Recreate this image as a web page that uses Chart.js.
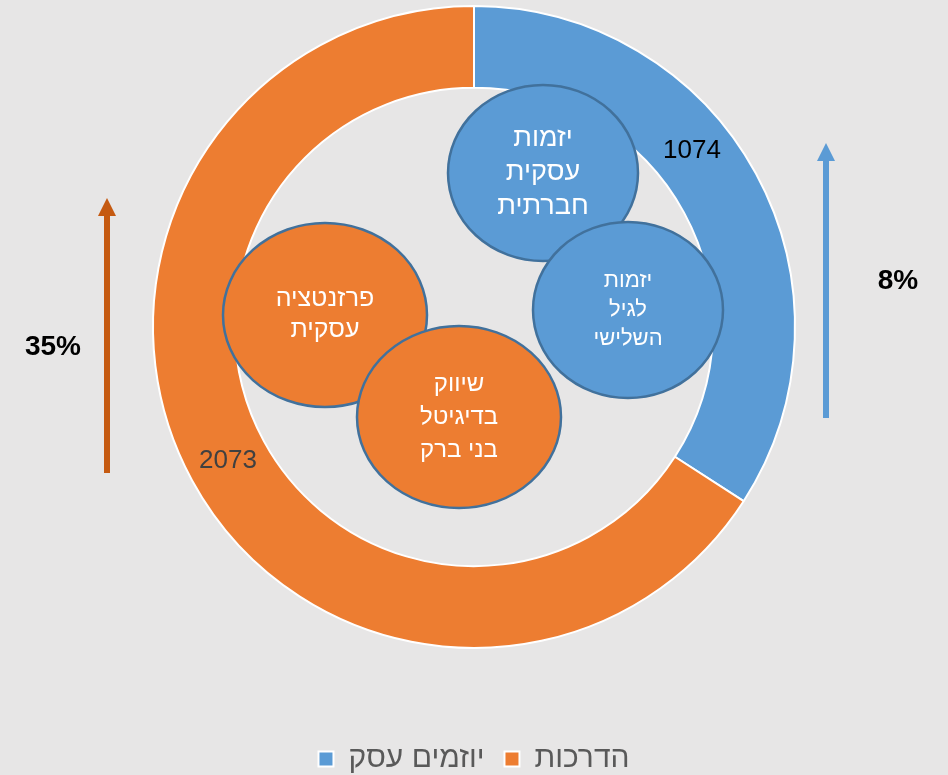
<!DOCTYPE html>
<html lang="he">
<head>
<meta charset="utf-8">
<script src="https://cdn.jsdelivr.net/npm/chart.js@4.4.1/dist/chart.umd.min.js"></script>
<style>
    html, body { margin: 0; padding: 0; background: #e7e6e6; }
    #wrap { width: 948px; height: 775px; }
</style>
</head>
<body>
<div id="wrap"><canvas id="chart"></canvas></div>
<script>
// ============================================================
// Data
// ============================================================

const CATEGORIES = ['יוזמים עסק', 'הדרכות'];
const VALUES = [1074, 2073];
const SLICE_COLORS = ['#5b9bd5', '#ed7d31'];
const VALUE_LABEL_COLORS = ['#000000', '#404040'];

// inner bubbles: text lines and which series colour they belong to
const BUBBLE_TEXTS = [
    ['יזמות', 'עסקית', 'חברתית'],
    ['יזמות', 'לגיל', 'השלישי'],
    ['פרזנטציה', 'עסקית'],
    ['שיווק', 'בדיגיטל', 'בני ברק']
];
const BUBBLE_SERIES = [0, 0, 1, 1];

// side arrows with growth percentages
const GROWTH_LABELS = ['8%', '35%'];

const FONT = '"Liberation Sans", "Open Sans", Arial, sans-serif';

// ============================================================
// Decorations plugin: value labels, bubbles, arrows
// ============================================================

// geometry relative to doughnut centre (px)
const BUBBLE_GEOM = [
    { dx: 69,  dy: -154, rx: 95,  ry: 88, size: 27, lh: 34 },
    { dx: 154, dy: -17,  rx: 95,  ry: 88, size: 22, lh: 29 },
    { dx: -149, dy: -12, rx: 102, ry: 92, size: 25, lh: 31 },
    { dx: -15, dy: 90,   rx: 102, ry: 91, size: 24, lh: 33 }
];
const ARROW_GEOM = [
    { dx: 352,  top: -184, bottom: 91,  color: '#5b9bd5', tx: 424,  ty: -46 },
    { dx: -367, top: -129, bottom: 146, color: '#c55a11', tx: -421, ty: 20 }
];
const LABEL_ANGLE_SHIFT = [-0.18, 0];

const decorations = {
    id: 'decorations',
    afterDatasetsDraw(chart) {
        const ctx = chart.ctx;
        const arcs = chart.getDatasetMeta(0).data;
        const cx = arcs[0].x, cy = arcs[0].y;

        // value labels inside the ring
        ctx.save();
        ctx.font = '26px ' + FONT;
        ctx.textAlign = 'center';
        ctx.textBaseline = 'middle';
        arcs.forEach((arc, i) => {
            const a = (arc.startAngle + arc.endAngle) / 2 + LABEL_ANGLE_SHIFT[i];
            const r = (arc.innerRadius + arc.outerRadius) / 2;
            ctx.fillStyle = VALUE_LABEL_COLORS[i];
            ctx.fillText(String(VALUES[i]), cx + r * Math.cos(a), cy + r * Math.sin(a));
        });
        ctx.restore();

        // bubbles
        BUBBLE_TEXTS.forEach((lines, i) => {
            const g = BUBBLE_GEOM[i];
            const x = cx + g.dx, y = cy + g.dy;
            ctx.save();
            ctx.beginPath();
            ctx.ellipse(x, y, g.rx, g.ry, 0, 0, Math.PI * 2);
            ctx.fillStyle = SLICE_COLORS[BUBBLE_SERIES[i]];
            ctx.fill();
            ctx.lineWidth = 2.5;
            ctx.strokeStyle = '#41719c';
            ctx.stroke();
            ctx.fillStyle = '#ffffff';
            ctx.font = g.size + 'px ' + FONT;
            ctx.textAlign = 'center';
            ctx.textBaseline = 'middle';
            const y0 = y - (lines.length - 1) * g.lh / 2;
            lines.forEach((t, k) => ctx.fillText(t, x, y0 + k * g.lh));
            ctx.restore();
        });

        // arrows and percentages
        ARROW_GEOM.forEach((g, i) => {
            const x = cx + g.dx;
            const yTop = cy + g.top, yBot = cy + g.bottom;
            const headH = 18, headW = 18;
            ctx.save();
            ctx.strokeStyle = g.color;
            ctx.fillStyle = g.color;
            ctx.lineWidth = 6;
            ctx.beginPath();
            ctx.moveTo(x, yBot);
            ctx.lineTo(x, yTop + headH - 1);
            ctx.stroke();
            ctx.beginPath();
            ctx.moveTo(x, yTop);
            ctx.lineTo(x + headW / 2, yTop + headH);
            ctx.lineTo(x - headW / 2, yTop + headH);
            ctx.closePath();
            ctx.fill();
            ctx.fillStyle = '#000000';
            ctx.font = 'bold 28px ' + FONT;
            ctx.textAlign = 'center';
            ctx.textBaseline = 'middle';
            ctx.fillText(GROWTH_LABELS[i], cx + g.tx, cy + g.ty);
            ctx.restore();
        });
    }
};

// ============================================================
// Chart
// ============================================================

new Chart(document.getElementById('chart'), {
    type: 'doughnut',
    data: {
        labels: CATEGORIES,
        datasets: [{
            data: VALUES,
            backgroundColor: SLICE_COLORS,
            borderColor: '#ffffff',
            borderWidth: 2
        }]
    },
    options: {
        responsive: true,
        maintainAspectRatio: false,
        animation: false,
        events: [],
        cutout: '74.5%',
        layout: { padding: { top: 5, bottom: -9, left: 152, right: 152 } },
        plugins: {
            tooltip: { enabled: false },
            legend: {
                position: 'bottom',
                title: { display: true, text: '', font: { size: 10, lineHeight: 1 }, padding: { top: 65, bottom: 0 } },
                labels: {
                    color: '#595959',
                    font: { size: 30, family: FONT },
                    boxWidth: 15,
                    boxHeight: 15,
                    padding: 20
                }
            }
        }
    },
    plugins: [decorations]
});
</script>
</body>
</html>
